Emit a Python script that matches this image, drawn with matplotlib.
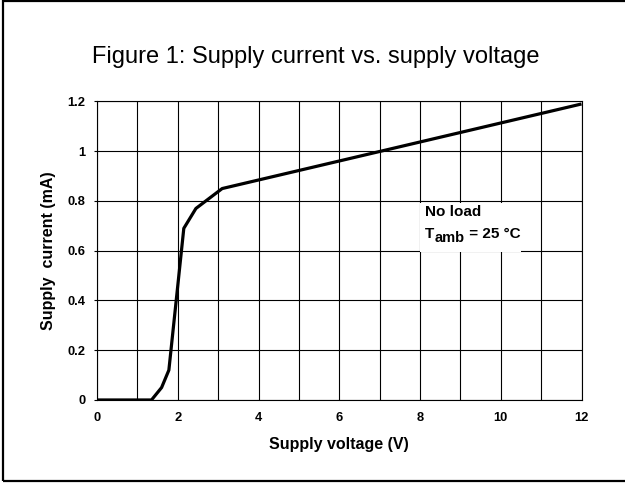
import matplotlib
matplotlib.use('Agg')
import matplotlib.pyplot as plt
from matplotlib.patches import Rectangle

plt.rcParams['font.family'] = ['Liberation Sans', 'DejaVu Sans']

# supply voltage (V) vs supply current (mA)
voltage = [0, 1.35, 1.6, 1.78, 2.15, 2.45, 3.1, 12]
current = [0, 0, 0.05, 0.12, 0.69, 0.77, 0.85, 1.19]
xticks = [0, 2, 4, 6, 8, 10, 12]
yticks = [0, 0.2, 0.4, 0.6, 0.8, 1.0, 1.2]
ytick_labels = ['0', '0.2', '0.4', '0.6', '0.8', '1', '1.2']

fig = plt.figure(figsize=(6.25, 4.84), dpi=100)
ax = fig.add_axes([0.1552, 0.1736, 0.7752, 0.6167])

ax.plot(voltage, current, color='k', lw=2.3, zorder=4, solid_capstyle='butt')

ax.set_xlim(0, 12)
ax.set_ylim(0, 1.2)
ax.set_xticks(xticks, [str(t) for t in xticks])
ax.set_xticks(range(0, 13), minor=True)
ax.set_yticks(yticks, ytick_labels)
ax.grid(True, which='both', axis='x', color='k', lw=0.8, zorder=1)
ax.grid(True, which='major', axis='y', color='k', lw=0.8, zorder=1)
ax.tick_params(axis='x', which='both', length=0, pad=9, labelsize=9.3)
ax.tick_params(axis='y', length=2.5, width=0.8, pad=6, labelsize=9.3)
for lab in ax.get_xticklabels() + ax.get_yticklabels():
    lab.set_fontweight('bold')
for sp in ax.spines.values():
    sp.set_linewidth(0.8)
    sp.set_zorder(3)

ax.set_xlabel('Supply voltage (V)', fontsize=11.5, fontweight='bold', labelpad=9)
ax.set_ylabel('Supply  current (mA)', fontsize=11.5, fontweight='bold', labelpad=8)

# white box under the annotation
ax.add_patch(Rectangle((8.0, 0.595), 2.5, 0.195, facecolor='white',
                       edgecolor='none', zorder=2))
ax.text(8.13, 0.754, 'No load', fontsize=11, fontweight='bold', va='center', zorder=5)
t1 = ax.text(8.13, 0.666, 'T', fontsize=11, fontweight='bold', va='center', zorder=5)
t2 = ax.annotate('amb', xy=(1, 0), xycoords=t1, xytext=(0, -2.5),
                 textcoords='offset points', fontsize=10.5, fontweight='bold',
                 va='bottom', ha='left', zorder=5)
ax.annotate(' = 25 °C', xy=(1, 0), xycoords=t2, xytext=(0, 2.5),
            textcoords='offset points', fontsize=11, fontweight='bold',
            va='bottom', ha='left', zorder=5)

fig.text(0.506, 0.882, 'Figure 1: Supply current vs. supply voltage',
         fontsize=17, ha='center', va='center')

# outer frame (right edge falls outside the picture)
fig.patches.append(Rectangle((0.004, 0.0072), 1.1, 0.99, transform=fig.transFigure,
                             fill=False, edgecolor='k', lw=1.6))

fig.savefig('out.png', dpi=100)
